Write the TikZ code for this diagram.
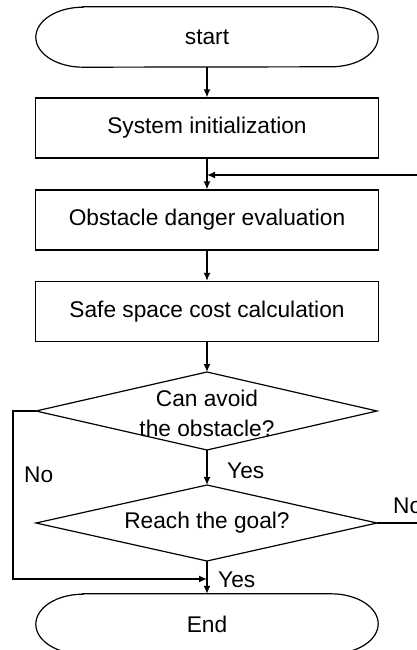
\documentclass[tikz,border=0pt]{standalone}
\usepackage{fontspec}
\setmainfont{Liberation Sans}
\usetikzlibrary{arrows.meta,calc}
\begin{document}
\begin{tikzpicture}[x=1pt,y=-1pt,
  every node/.style={font=\fontsize{22.7}{30}\selectfont},
  box/.style={draw,line width=1.2pt,minimum width=343pt,minimum height=60pt,inner sep=0pt},
  termtext/.style={minimum width=342pt,minimum height=60pt,inner sep=0pt},
  outline/.style={line width=1.2pt},
  arr/.style={line width=1.5pt,-{Latex[length=8pt,width=7pt]}},
  plain/.style={line width=1.5pt},
  lbl/.style={inner sep=0pt}]
\useasboundingbox (0,0) rectangle (417,650);

% start terminal
\node[termtext] (start) at (207,37) {start};
\draw[outline] ([xshift=47pt]start.north west) -- ([xshift=-47pt]start.north east)
  arc[start angle=90,end angle=-90,x radius=47pt,y radius=30pt]
  -- ([xshift=47pt]start.south west)
  arc[start angle=270,end angle=90,x radius=47pt,y radius=30pt] -- cycle;

% process boxes
\node[box] (init) at (207,128) {System initialization};
\node[box] (obst) at (207,220) {Obstacle danger evaluation};
\node[box] (safe) at (207,311.5) {Safe space cost calculation};

% decision 1
\coordinate (d1t) at (207,372);
\coordinate (d1r) at (377,411);
\coordinate (d1b) at (207,450);
\coordinate (d1l) at (36,411);
\draw[outline] (d1t) -- (d1r) -- (d1b) -- (d1l) -- cycle;
\node[align=center,inner sep=0pt] (d1) at (207,413) {Can avoid\\the obstacle?};

% decision 2
\coordinate (d2t) at (207,485);
\coordinate (d2r) at (377,523);
\coordinate (d2b) at (207,561);
\coordinate (d2l) at (36,523);
\draw[outline] (d2t) -- (d2r) -- (d2b) -- (d2l) -- cycle;
\node[inner sep=0pt] (d2) at (207,523) {Reach the goal?};

% end terminal
\node[termtext] (end) at (207,624) {End};
\draw[outline] ([xshift=47pt]end.north west) -- ([xshift=-47pt]end.north east)
  arc[start angle=90,end angle=-90,x radius=47pt,y radius=30pt]
  -- ([xshift=47pt]end.south west)
  arc[start angle=270,end angle=90,x radius=47pt,y radius=30pt] -- cycle;

% connectors
\draw[arr] (start) -- (init);
\draw[arr] (init) -- (obst);
\coordinate (fb) at (207,175);
\coordinate (fbin) at (420,175);
\draw[arr] (fbin) -- (fb);
\draw[arr] (obst) -- (safe);
\draw[arr] (safe.south) -- (d1t);
\draw[arr] (d1b) -- (d2t);
\draw[arr] (d2b) -- (end.north);
\coordinate (lc1) at (13,411);
\coordinate (lc2) at (13,579);
\coordinate (mrg) at (207,579);
\draw[arr] (d1l) -- (lc1) -- (lc2) -- (mrg);
\coordinate (nr) at (420,523);
\draw[plain] (d2r) -- (nr);

% labels
\node[lbl,anchor=base west] (no1) at (24,482) {No};
\node[lbl,anchor=base west] (yes1) at (227,478) {Yes};
\node[lbl,anchor=base west] (no2) at (393,513) {No};
\node[lbl,anchor=base west] (yes2) at (218,587) {Yes};
\end{tikzpicture}
\end{document}
